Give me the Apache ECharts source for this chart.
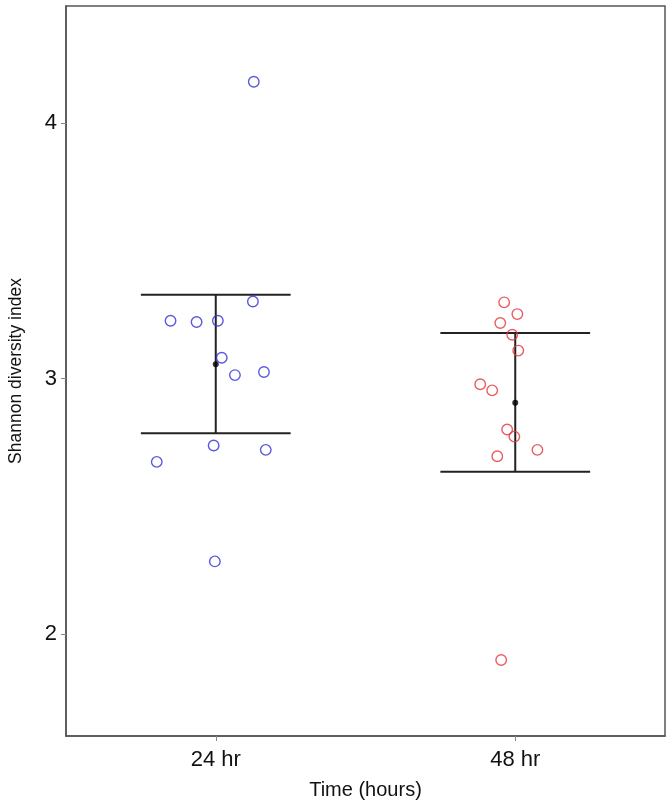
<!DOCTYPE html>
<html>
<head>
<meta charset="utf-8">
<script src="https://cdn.jsdelivr.net/npm/echarts@6/dist/echarts.min.js"></script>
<style>html,body{margin:0;padding:0;background:#fff;}#c{width:672px;height:806px;}</style>
</head>
<body>
<div id="c"></div>
<script>
const categories = ['24 hr', '48 hr'];
const yTicks = [2, 3, 4];
// jittered x positions (category 1 = 24 hr, 2 = 48 hr) and values
const x24 = [1.127, 1.124, 0.849, 0.936, 1.007, 1.020, 1.064, 1.161, 0.993, 1.167, 0.803, 0.997];
const y24 = [4.163, 3.302, 3.227, 3.222, 3.227, 3.082, 3.014, 3.026, 2.738, 2.721, 2.674, 2.284];
const x48 = [1.963, 2.007, 1.950, 1.990, 2.010, 1.883, 1.923, 1.973, 1.997, 2.074, 1.940, 1.953];
const y48 = [3.299, 3.253, 3.218, 3.172, 3.110, 2.978, 2.954, 2.801, 2.773, 2.721, 2.696, 1.898];
const means = [3.056, 2.906];
const upper = [3.329, 3.179];
const lower = [2.786, 2.635];
const capHalfWidth = 0.25;

const pts24 = x24.map((x, i) => [x, y24[i]]);
const pts48 = x48.map((x, i) => [x, y48[i]]);
const errData = categories.map((c, i) => [i + 1, lower[i], upper[i], means[i]]);
const meanData = categories.map((c, i) => [i + 1, means[i]]);

const chart = echarts.init(document.getElementById('c'), null, {renderer: 'canvas'});
const lineCol = '#222';
chart.setOption({
  animation: false,
  backgroundColor: '#fff',
  grid: {left: 66, right: 7, top: 6, bottom: 70, outerBoundsMode: 'none', containLabel: false,
    show: true, borderColor: '#555', borderWidth: 1.5, backgroundColor: 'transparent'},
  xAxis: {
    type: 'value', min: 0.5, max: 2.5,
    name: 'Time (hours)', nameLocation: 'middle', nameGap: 44,
    nameTextStyle: {fontFamily: '"Liberation Sans", Arial, sans-serif', fontSize: 20, color: '#111'},
    axisLine: {show: true, lineStyle: {color: '#555', width: 1.5}},
    axisTick: {show: true, customValues: [1, 2], length: 5, lineStyle: {color: '#888'}},
    axisLabel: {customValues: [1, 2], margin: 13, fontFamily: '"Liberation Sans", Arial, sans-serif', fontSize: 22, color: '#111',
      formatter: v => categories[Math.round(v) - 1] || ''},
    splitLine: {show: false}
  },
  yAxis: {
    type: 'value', min: 1.6, max: 4.46,
    name: 'Shannon diversity index', nameLocation: 'middle', nameGap: 41,
    nameTextStyle: {fontFamily: '"Liberation Sans", Arial, sans-serif', fontSize: 17.5, color: '#111'},
    axisLine: {show: true, lineStyle: {color: '#555', width: 1.5}},
    axisTick: {show: true, customValues: yTicks, length: 5, lineStyle: {color: '#888'}},
    axisLabel: {customValues: yTicks, margin: 9, fontFamily: '"Liberation Sans", Arial, sans-serif', fontSize: 22, color: '#111'},
    splitLine: {show: false}
  },
  series: [
    {
      type: 'custom',
      data: errData,
      renderItem: function (params, api) {
        const x = api.value(0), lo = api.value(1), hi = api.value(2);
        const pLo = api.coord([x, lo]), pHi = api.coord([x, hi]);
        const l1 = api.coord([x - capHalfWidth, lo]), r1 = api.coord([x + capHalfWidth, lo]);
        const l2 = api.coord([x - capHalfWidth, hi]), r2 = api.coord([x + capHalfWidth, hi]);
        const st = {stroke: lineCol, lineWidth: 2};
        return {type: 'group', children: [
          {type: 'line', shape: {x1: pLo[0], y1: pLo[1], x2: pHi[0], y2: pHi[1]}, style: st},
          {type: 'line', shape: {x1: l1[0], y1: l1[1], x2: r1[0], y2: r1[1]}, style: st},
          {type: 'line', shape: {x1: l2[0], y1: l2[1], x2: r2[0], y2: r2[1]}, style: st}
        ]};
      },
      z: 2
    },
    {type: 'scatter', data: meanData, symbol: 'circle', symbolSize: 6, itemStyle: {color: '#000'}, z: 3},
    {type: 'scatter', data: pts24, symbol: 'circle', symbolSize: 10.5,
      itemStyle: {color: 'rgba(0,0,0,0)', borderColor: '#2f2fd8', borderWidth: 1.4}, z: 4},
    {type: 'scatter', data: pts48, symbol: 'circle', symbolSize: 10.5,
      itemStyle: {color: 'rgba(0,0,0,0)', borderColor: '#e2343a', borderWidth: 1.4}, z: 4}
  ]
});
</script>
</body>
</html>
